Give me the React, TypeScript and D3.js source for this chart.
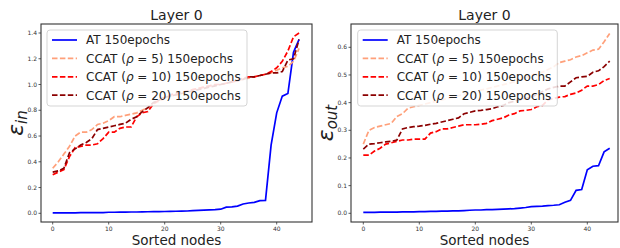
import React from "react";
import * as d3 from "d3";

// sorted node index 0..44
const nodes = d3.range(45);

// left panel: eps_in
const inAT = [0.004, 0.004, 0.004, 0.004, 0.004, 0.005, 0.005, 0.005, 0.006, 0.006, 0.008, 0.008, 0.009, 0.009, 0.01, 0.01, 0.011, 0.012, 0.013, 0.013, 0.014, 0.015, 0.016, 0.017, 0.018, 0.02, 0.022, 0.024, 0.026, 0.028, 0.032, 0.048, 0.05, 0.056, 0.072, 0.08, 0.085, 0.098, 0.1, 0.53, 0.78, 0.91, 0.93, 1.25, 1.35];
const inR5 = [0.35, 0.4, 0.46, 0.52, 0.6, 0.63, 0.63, 0.65, 0.69, 0.7, 0.72, 0.75, 0.75, 0.76, 0.77, 0.78, 0.8, 0.82, 0.85, 0.87, 0.89, 0.91, 0.92, 0.93, 0.95, 0.96, 0.97, 0.98, 0.99, 1.0, 1.0, 1.01, 1.02, 1.03, 1.04, 1.05, 1.06, 1.07, 1.08, 1.09, 1.11, 1.13, 1.14, 1.18, 1.28];
const inR10 = [0.3, 0.32, 0.34, 0.44, 0.51, 0.52, 0.53, 0.53, 0.54, 0.58, 0.63, 0.63, 0.66, 0.67, 0.67, 0.75, 0.78, 0.79, 0.85, 0.88, 0.9, 0.92, 0.93, 0.94, 0.95, 0.96, 0.97, 0.98, 0.99, 1.0, 1.0, 1.01, 1.02, 1.03, 1.05, 1.06, 1.06, 1.07, 1.08, 1.1, 1.13, 1.18, 1.26, 1.37, 1.4];
const inR20 = [0.32, 0.33, 0.35, 0.47, 0.5, 0.53, 0.55, 0.58, 0.65, 0.66, 0.67, 0.68, 0.69, 0.7, 0.73, 0.75, 0.79, 0.82, 0.86, 0.88, 0.9, 0.91, 0.92, 0.93, 0.94, 0.95, 0.96, 0.97, 0.98, 0.99, 1.0, 1.01, 1.02, 1.03, 1.04, 1.06, 1.06, 1.07, 1.08, 1.09, 1.09, 1.1, 1.19, 1.2, 1.35];

// right panel: eps_out
const outAT = [0.003, 0.003, 0.003, 0.004, 0.004, 0.004, 0.004, 0.005, 0.005, 0.005, 0.006, 0.006, 0.007, 0.007, 0.008, 0.008, 0.009, 0.009, 0.01, 0.011, 0.012, 0.012, 0.013, 0.013, 0.014, 0.015, 0.016, 0.017, 0.019, 0.021, 0.024, 0.025, 0.026, 0.028, 0.029, 0.031, 0.04, 0.047, 0.083, 0.086, 0.157, 0.17, 0.172, 0.222, 0.235];
const outR5 = [0.25, 0.3, 0.31, 0.315, 0.32, 0.325, 0.35, 0.36, 0.38, 0.385, 0.39, 0.395, 0.4, 0.405, 0.41, 0.415, 0.42, 0.425, 0.43, 0.435, 0.44, 0.445, 0.45, 0.455, 0.46, 0.465, 0.47, 0.475, 0.48, 0.49, 0.5, 0.505, 0.51, 0.52, 0.53, 0.545, 0.55, 0.555, 0.565, 0.57, 0.58, 0.59, 0.593, 0.62, 0.65];
const outR10 = [0.21, 0.21, 0.225, 0.235, 0.25, 0.255, 0.26, 0.265, 0.265, 0.268, 0.268, 0.268, 0.29, 0.295, 0.305, 0.305, 0.31, 0.315, 0.32, 0.32, 0.32, 0.322, 0.325, 0.335, 0.34, 0.345, 0.355, 0.36, 0.37, 0.372, 0.375, 0.385, 0.39, 0.41, 0.415, 0.42, 0.422, 0.43, 0.435, 0.445, 0.46, 0.46, 0.465, 0.48, 0.487];
const outR20 = [0.232, 0.25, 0.252, 0.255, 0.258, 0.26, 0.265, 0.305, 0.31, 0.313, 0.315, 0.318, 0.322, 0.325, 0.33, 0.335, 0.34, 0.345, 0.36, 0.365, 0.37, 0.372, 0.375, 0.378, 0.385, 0.39, 0.4, 0.405, 0.41, 0.415, 0.42, 0.43, 0.44, 0.45, 0.455, 0.46, 0.46, 0.475, 0.49, 0.493, 0.495, 0.51, 0.515, 0.53, 0.55];

// legend: method name, rho (null for AT)
const methods = ["AT", "CCAT", "CCAT", "CCAT"];
const rhos = [null, 5, 10, 20];
const colors = ["#0000ff", "#ffa07a", "#ff0000", "#8b0000"];
const dashes = [null, "5.5,2.4", "5.5,2.4", "5.5,2.4"];

const xTicks = [0, 10, 20, 30, 40];
const inTicks = [0, 0.2, 0.4, 0.6, 0.8, 1.0, 1.2, 1.4];
const outTicks = [0, 0.1, 0.2, 0.3, 0.4, 0.5, 0.6];

const FONT = "DejaVu Sans, sans-serif";

const Panel = ({ box, xRange, yDomain, yRange, yTicks, series, sub, legendBox }) => {
  const x = d3.scaleLinear().domain([0, 40]).range(xRange);
  const y = d3.scaleLinear().domain(yDomain).range(yRange);
  const line = d3
    .line<number>()
    .x((_, i) => x(nodes[i]))
    .y((d) => y(d));
  const [x0, y0, x1, y1] = box;
  const cx = (x0 + x1) / 2;
  const cy = (y0 + y1) / 2;
  const clipId = "clip" + x0;
  const [lx, ly, lw, lh] = legendBox;

  return (
    <g>
      <defs>
        <clipPath id={clipId}>
          <rect x={x0} y={y0} width={x1 - x0} height={y1 - y0} />
        </clipPath>
      </defs>
      <rect x={x0} y={y0} width={x1 - x0} height={y1 - y0} fill="#fff" />
      <g clipPath={`url(#${clipId})`}>
        {series.map((s, i) => (
          <path
            key={i}
            d={line(s)}
            fill="none"
            stroke={colors[i]}
            strokeWidth={1.7}
            strokeDasharray={dashes[i] || undefined}
          />
        ))}
      </g>
      <rect x={x0} y={y0} width={x1 - x0} height={y1 - y0} fill="none" stroke="#333" strokeWidth={1.1} />
      {xTicks.map((t) => (
        <g key={t}>
          <line x1={x(t)} x2={x(t)} y1={y1} y2={y1 + 2.5} stroke="#333" strokeWidth={0.8} />
          <text x={x(t)} y={y1 + 9} fontSize={6} fontFamily={FONT} fill="#333" textAnchor="middle">
            {t}
          </text>
        </g>
      ))}
      {yTicks.map((t) => (
        <g key={t}>
          <line x1={x0 - 2.5} x2={x0} y1={y(t)} y2={y(t)} stroke="#333" strokeWidth={0.8} />
          <text x={x0 - 4} y={y(t) + 2.1} fontSize={6} fontFamily={FONT} fill="#333" textAnchor="end">
            {t.toFixed(1)}
          </text>
        </g>
      ))}
      <text x={cx} y={20} fontSize={14} fontFamily={FONT} fill="#222" textAnchor="middle">
        Layer 0
      </text>
      <text x={cx} y={245} fontSize={13.5} fontFamily={FONT} fill="#222" textAnchor="middle">
        Sorted nodes
      </text>
      <text
        transform={`translate(${x0 - 18},${cy}) rotate(-90)`}
        fontFamily={FONT}
        fill="#222"
        textAnchor="middle"
        fontStyle="italic"
      >
        <tspan fontSize={22}>ε</tspan>
        <tspan fontSize={15} dy={4}>{sub}</tspan>
      </text>
      <rect x={lx} y={ly} width={lw} height={lh} rx={3} fill="#fff" fillOpacity={0.85} stroke="#d0d0d0" strokeWidth={0.9} />
      {methods.map((m, i) => {
        const ry = ly + 10 + i * 18.4;
        return (
          <g key={i}>
            <line
              x1={lx + 5}
              x2={lx + 30}
              y1={ry}
              y2={ry}
              stroke={colors[i]}
              strokeWidth={1.7}
              strokeDasharray={dashes[i] || undefined}
            />
            <text x={lx + 39} y={ry + 4.3} fontSize={12} fontFamily={FONT} fill="#222">
              {rhos[i] == null ? (
                `${m} 150epochs`
              ) : (
                <>
                  {`${m} (`}
                  <tspan fontStyle="italic">ρ</tspan>
                  {` = ${rhos[i]}) 150epochs`}
                </>
              )}
            </text>
          </g>
        );
      })}
    </g>
  );
};

export default function App() {
  return (
    <svg width={620} height={248} style={{ position: "absolute", left: 0, top: 0 }}>
      <rect width={620} height={248} fill="#fff" />
      <Panel
        box={[41, 24, 312, 222]}
        xRange={[52.7, 276.7]}
        yDomain={[0, 1.4]}
        yRange={[213.3, 33]}
        yTicks={inTicks}
        series={[inAT, inR5, inR10, inR20]}
        sub="in"
        legendBox={[47, 30, 200, 76]}
      />
      <Panel
        box={[351, 24, 618, 222]}
        xRange={[363.3, 587.3]}
        yDomain={[0, 0.6]}
        yRange={[213.3, 47.3]}
        yTicks={outTicks}
        series={[outAT, outR5, outR10, outR20]}
        sub="out"
        legendBox={[357.7, 30, 199.6, 76]}
      />
    </svg>
  );
}
